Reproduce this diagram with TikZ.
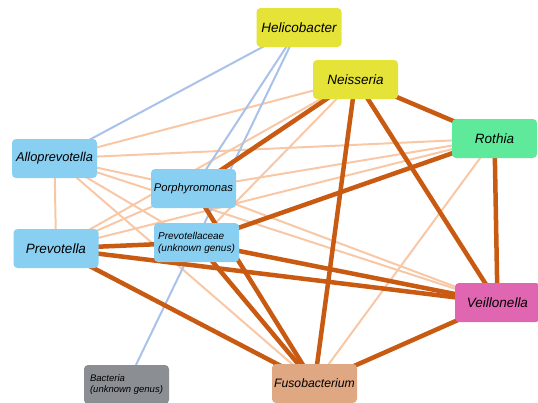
\documentclass[tikz,border=0pt]{standalone}
\usepackage{fontspec}
\setmainfont{Liberation Sans}
\usepackage{tikz}
\usetikzlibrary{backgrounds}

\definecolor{bluebox}{HTML}{89CFF1}
\definecolor{yellowbox}{HTML}{E5E337}
\definecolor{greenbox}{HTML}{5FE99B}
\definecolor{pinkbox}{HTML}{E066B1}
\definecolor{tanbox}{HTML}{E0A783}
\definecolor{greybox}{HTML}{8B8F93}
\definecolor{strongedge}{HTML}{C85A12}
\definecolor{weakedge}{HTML}{F8C8A6}
\definecolor{blueedge}{HTML}{A9C2E9}

\tikzset{
  taxon/.style={rounded corners=4pt, minimum width=85pt, minimum height=39pt,
    inner sep=2pt, font=\itshape\fontsize{13.5}{15}\selectfont},
  small/.style={font=\itshape\fontsize{10}{12}\selectfont, align=left},
  strong/.style={draw=strongedge, line width=4.5pt},
  weak/.style={draw=weakedge, line width=2pt},
  other/.style={draw=blueedge, line width=2pt}
}

\begin{document}
\begin{tikzpicture}[x=1pt,y=-1pt]
  \useasboundingbox (0,0) rectangle (538,402);
  % genera
  \node[taxon, fill=yellowbox] (helico) at (299,27.5) {Helicobacter};
  \node[taxon, fill=yellowbox] (neiss) at (355.5,79.5) {Neisseria};
  \node[taxon, fill=greenbox] (rothia) at (494.5,138.5) {Rothia};
  \node[taxon, fill=bluebox, font=\itshape\fontsize{12.8}{15}\selectfont] (allo) at (54.5,158.5) {Alloprevotella};
  \node[taxon, fill=bluebox, font=\itshape\fontsize{11.2}{13}\selectfont] (porph) at (193.5,188.5) {Porphyromonas};
  \node[taxon, fill=bluebox] (prev) at (56,248.5) {Prevotella};
  \node[taxon, fill=bluebox, small] (prevcae) at (196.5,242.5) {Prevotellaceae\\(unknown genus)};
  \node[taxon, fill=pinkbox] (veil) at (497.5,302.5) {Veillonella};
  \node[taxon, fill=greybox, small, font=\itshape\fontsize{9.5}{11.5}\selectfont] (bact) at (126.5,384.5) {Bacteria\\(unknown genus)};
  \node[taxon, fill=tanbox, font=\itshape\fontsize{12.2}{14}\selectfont] (fuso) at (314.5,383.5) {Fusobacterium};

  \begin{scope}[on background layer]
    % weak links
    \foreach \a/\b in {allo/prev, allo/neiss, allo/rothia, allo/porph, allo/prevcae,
        allo/veil, allo/fuso, prev/porph, prev/neiss, prev/rothia, porph/rothia,
        porph/veil, neiss/prevcae, rothia/fuso}
      \draw[weak] (\a.center) -- (\b.center);
    % links to helicobacter
    \foreach \b in {allo, porph, bact}
      \draw[other] (helico.center) -- (\b.center);
    % strong links
    \foreach \a/\b in {neiss/rothia, neiss/fuso, neiss/veil, neiss/porph,
        rothia/veil, rothia/prevcae, prev/prevcae, prev/veil, prev/fuso,
        prevcae/veil, prevcae/fuso, porph/fuso, veil/fuso}
      \draw[strong] (\a.center) -- (\b.center);
  \end{scope}
\end{tikzpicture}
\end{document}
